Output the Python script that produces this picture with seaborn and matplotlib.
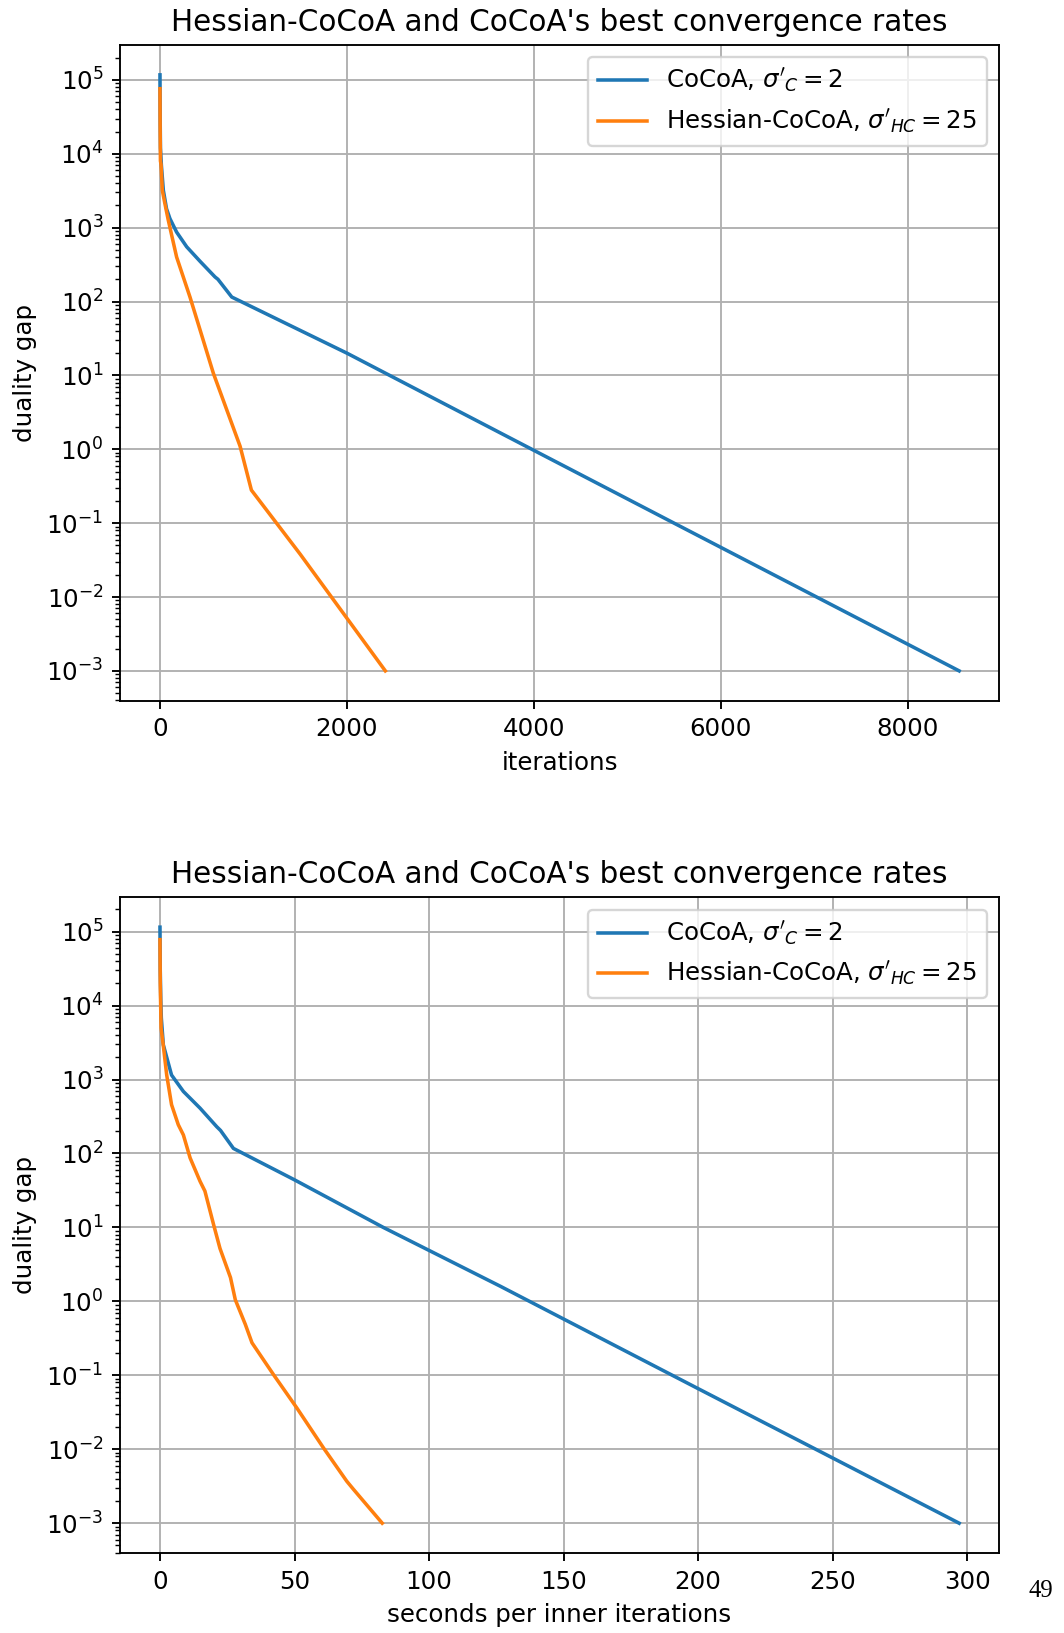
import matplotlib
matplotlib.use("Agg")
import matplotlib.pyplot as plt
import seaborn as sns
import pandas as pd

# top panel: duality gap vs iterations
iter_cocoa = [0, 2, 5, 15, 36, 70, 107, 178, 286, 429, 589, 620, 768, 2000, 3643, 5500, 8550]
gap_cocoa_it = [1.17e5, 3e4, 1.2e4, 7000, 3200, 1800, 1320, 870, 550, 350, 215, 200, 115, 20, 1.66, 0.1, 1e-3]

iter_hc = [0, 2, 5, 11, 25, 50, 89, 178, 321, 571, 857, 978, 1500, 2411]
gap_hc_it = [7.6e4, 2e4, 8000, 7200, 3200, 2200, 1260, 400, 115, 10.7, 1.1, 0.28, 0.038, 1e-3]

# bottom panel: duality gap vs seconds
sec_cocoa = [0, 0.1, 0.3, 0.5, 1.24, 4.3, 8.7, 14.9, 21.1, 22.5, 27.3, 50, 83, 126.5, 200, 297]
gap_cocoa_s = [1.15e5, 3e4, 1.2e4, 6800, 2950, 1150, 690, 410, 230, 205, 117, 44, 10, 1.6, 0.066, 1e-3]

sec_hc = [0, 0.1, 0.3, 0.4, 1.2, 2.5, 4.3, 6.8, 8.7, 11.2, 14.9, 16.7, 19.9, 22.3,
          26.2, 28.0, 31.7, 34.2, 42.2, 50.9, 60.7, 69.4, 71.8, 82.6]
gap_hc_s = [7.8e4, 2e4, 8300, 5000, 2950, 1150, 457, 245, 178, 87, 42, 31, 11, 5.2,
            2.1, 1.05, 0.49, 0.275, 0.102, 0.036, 0.0105, 0.0037, 0.0029, 1e-3]

label_c = r"CoCoA, $\sigma'_C = 2$"
label_hc = r"Hessian-CoCoA, $\sigma'_{HC} = 25$"
title = "Hessian-CoCoA and CoCoA's best convergence rates"

plt.rcParams['font.family'] = ['DejaVu Sans']
plt.rcParams['xtick.labelsize'] = 10.4
plt.rcParams['ytick.labelsize'] = 10.4

DPI = 170
fig, axes = plt.subplots(2, 1, figsize=(1064 / DPI, 1633 / DPI), dpi=DPI)
fig.subplots_adjust(left=0.1128, right=0.939, top=0.9724, bottom=0.049, hspace=0.30)

panels = [
    (iter_cocoa, gap_cocoa_it, iter_hc, gap_hc_it, "iterations"),
    (sec_cocoa, gap_cocoa_s, sec_hc, gap_hc_s, "seconds per inner iterations"),
]

for ax, (xc, yc, xh, yh, xlab) in zip(axes, panels):
    df_c = pd.DataFrame({"x": xc, "y": yc})
    df_h = pd.DataFrame({"x": xh, "y": yh})
    sns.lineplot(data=df_c, x="x", y="y", ax=ax, color="#1f77b4", label=label_c)
    sns.lineplot(data=df_h, x="x", y="y", ax=ax, color="#ff7f0e", label=label_hc)
    ax.set_yscale("log")
    ax.grid(True, which="major")
    ax.set_title(title, fontsize=12.5)
    ax.set_xlabel(xlab, fontsize=10.4)
    ax.set_ylabel("duality gap", fontsize=10.4)
    ax.legend(loc="upper right", fontsize=10.4)

fig.text(1041 / 1064, 1 - 1591 / 1633, "49", ha="center", va="center",
         family="Liberation Serif", fontsize=10.5)

fig.savefig("out.png", dpi=DPI)
